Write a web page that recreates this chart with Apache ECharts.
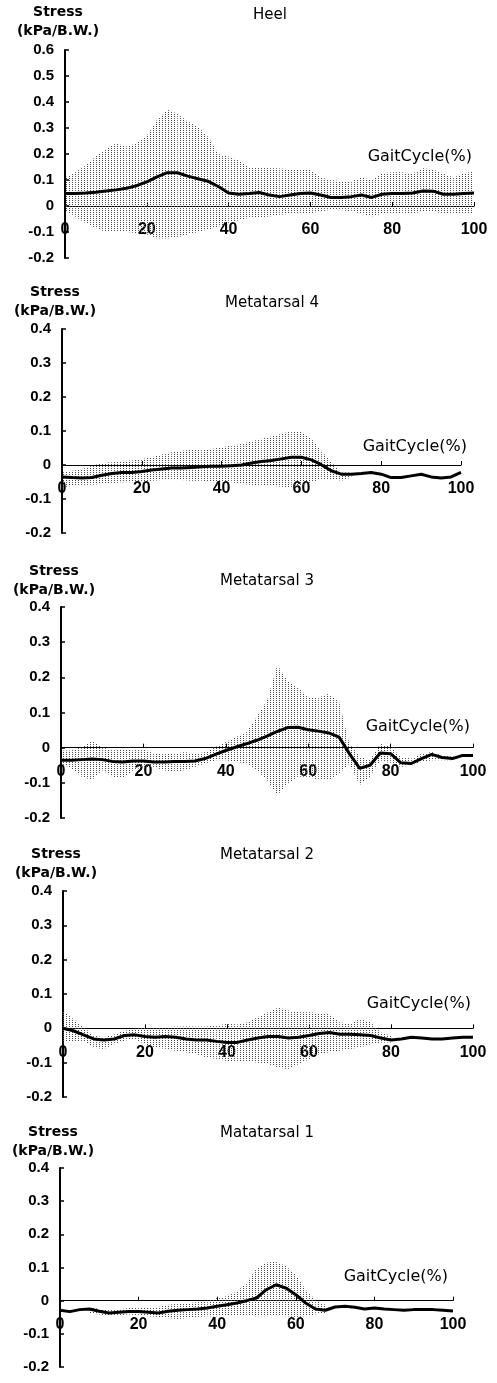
<!DOCTYPE html>
<html lang="en" style="height: 100%">
<head>
  <meta charset="utf-8">
  <title>Plantar stress over the gait cycle</title>
</head>
<body style="height: 100%; margin: 0; background: #fff;">
  <div id="container" style="width: 497px; height: 1383px;"></div>

  <script type="text/javascript" src="https://cdn.jsdelivr.net/npm/echarts@6.0.0/dist/echarts.min.js"></script>
  <script type="text/javascript">
    // gait cycle (%), sampled every 2.5
    var gait = [0, 2.5, 5, 7.5, 10, 12.5, 15, 17.5, 20, 22.5, 25, 27.5, 30, 32.5, 35, 37.5, 40, 42.5, 45, 47.5,
      50, 52.5, 55, 57.5, 60, 62.5, 65, 67.5, 70, 72.5, 75, 77.5, 80, 82.5, 85, 87.5, 90, 92.5, 95, 97.5, 100];

    var heelMean = [0.048, 0.048, 0.05, 0.053, 0.058, 0.062, 0.068, 0.078, 0.093, 0.112, 0.128, 0.128, 0.115, 0.105, 0.095, 0.075, 0.05, 0.045, 0.048, 0.052,
      0.042, 0.036, 0.042, 0.048, 0.05, 0.042, 0.033, 0.033, 0.036, 0.042, 0.033, 0.045, 0.048, 0.048, 0.05, 0.058, 0.057, 0.045, 0.045, 0.048, 0.05];
    var heelUpper = [0.11, 0.13, 0.155, 0.19, 0.22, 0.24, 0.23, 0.24, 0.27, 0.33, 0.37, 0.355, 0.325, 0.305, 0.265, 0.2, 0.19, 0.175, 0.15, 0.15,
      0.145, 0.145, 0.14, 0.14, 0.14, 0.11, 0.1, 0.095, 0.095, 0.11, 0.1, 0.125, 0.13, 0.13, 0.125, 0.145, 0.14, 0.125, 0.11, 0.125, 0.135];
    var heelLower = [-0.015, -0.04, -0.065, -0.085, -0.1, -0.1, -0.1, -0.105, -0.11, -0.125, -0.125, -0.12, -0.11, -0.1, -0.09, -0.08, -0.065, -0.055, -0.045, -0.045,
      -0.04, -0.035, -0.03, -0.03, -0.03, -0.02, -0.015, -0.015, -0.02, -0.03, -0.04, -0.03, -0.03, -0.03, -0.03, -0.02, -0.02, -0.03, -0.03, -0.03, -0.03];

    var met4Mean = [-0.035, -0.037, -0.038, -0.037, -0.03, -0.025, -0.022, -0.022, -0.019, -0.015, -0.012, -0.009, -0.009, -0.007, -0.005, -0.004, -0.004, -0.002, 0, 0.006,
      0.01, 0.013, 0.018, 0.023, 0.023, 0.015, 0.001, -0.017, -0.027, -0.027, -0.025, -0.022, -0.027, -0.037, -0.037, -0.032, -0.027, -0.035, -0.038, -0.035, -0.022];
    var met4Upper = [-0.022, -0.017, -0.012, -0.002, 0.005, 0.008, 0.011, 0.013, 0.018, 0.023, 0.031, 0.038, 0.042, 0.045, 0.047, 0.047, 0.052, 0.057, 0.062, 0.07,
      0.077, 0.084, 0.092, 0.1, 0.097, 0.077, 0.042, 0.008, -0.022, -0.022, null, null, null, null, null, null, null, null, null, null, null];
    var met4Lower = [-0.066, -0.061, -0.058, -0.058, -0.056, -0.054, -0.051, -0.051, -0.049, -0.046, -0.044, -0.044, -0.044, -0.046, -0.046, -0.051, -0.051, -0.051, -0.056, -0.058,
      -0.061, -0.061, -0.064, -0.066, -0.061, -0.051, -0.041, -0.041, -0.046, -0.037, null, null, null, null, null, null, null, null, null, null, null];

    var met3Mean = [-0.036, -0.036, -0.034, -0.032, -0.034, -0.039, -0.041, -0.038, -0.038, -0.041, -0.041, -0.039, -0.039, -0.038, -0.031, -0.019, -0.008, 0.002, 0.011, 0.021,
      0.033, 0.046, 0.057, 0.058, 0.051, 0.047, 0.042, 0.03, -0.017, -0.059, -0.05, -0.015, -0.017, -0.043, -0.045, -0.031, -0.019, -0.028, -0.031, -0.022, -0.022];
    var met3Upper = [-0.008, -0.008, 0.002, 0.021, 0.002, -0.008, -0.003, -0.008, -0.003, -0.017, -0.019, -0.017, -0.012, -0.017, -0.012, 0.002, 0.016, 0.03, 0.044, 0.087,
      0.134, 0.235, 0.19, 0.172, 0.143, 0.143, 0.153, 0.13, 0.011, -0.026, -0.036, 0.011, 0.002, -0.026, -0.031, -0.017, -0.012, -0.022, -0.026, -0.019, -0.019];
    var met3Lower = [-0.045, -0.059, -0.083, -0.092, -0.064, -0.083, -0.088, -0.064, -0.055, -0.055, -0.064, -0.069, -0.064, -0.055, -0.045, -0.036, -0.036, -0.041, -0.045, -0.064,
      -0.092, -0.135, -0.102, -0.083, -0.083, -0.092, -0.092, -0.074, -0.045, -0.106, -0.083, -0.036, -0.045, -0.055, -0.05, -0.041, -0.036, -0.036, -0.036, -0.026, -0.026];

    var met2Mean = [0, -0.007, -0.019, -0.031, -0.034, -0.031, -0.021, -0.019, -0.024, -0.026, -0.024, -0.026, -0.031, -0.034, -0.034, -0.038, -0.041, -0.041, -0.034, -0.028,
      -0.024, -0.024, -0.028, -0.026, -0.021, -0.015, -0.012, -0.017, -0.017, -0.019, -0.021, -0.028, -0.034, -0.031, -0.026, -0.028, -0.031, -0.031, -0.028, -0.026, -0.026];
    var met2Upper = [0.052, 0.027, 0.003, -0.021, -0.026, -0.017, -0.007, -0.002, 0.003, 0.003, 0.003, 0.005, 0.005, 0.005, 0.005, 0.008, 0.013, 0.011, 0.018, 0.032,
      0.047, 0.061, 0.052, 0.047, 0.047, 0.044, 0.042, 0.018, 0.013, 0.027, 0.018, -0.012, -0.021, null, null, null, null, null, null, null, null];
    var met2Lower = [-0.041, -0.038, -0.036, -0.056, -0.06, -0.046, -0.036, -0.031, -0.046, -0.056, -0.06, -0.065, -0.07, -0.075, -0.085, -0.09, -0.095, -0.095, -0.095, -0.1,
      -0.104, -0.114, -0.119, -0.104, -0.09, -0.075, -0.07, -0.065, -0.06, -0.056, -0.046, -0.041, -0.041, null, null, null, null, null, null, null, null];

    var met1Mean = [-0.029, -0.033, -0.027, -0.025, -0.032, -0.037, -0.035, -0.033, -0.033, -0.035, -0.037, -0.032, -0.029, -0.027, -0.025, -0.022, -0.017, -0.012, -0.007, 0,
      0.008, 0.033, 0.048, 0.038, 0.018, -0.007, -0.025, -0.029, -0.019, -0.017, -0.02, -0.025, -0.022, -0.025, -0.027, -0.029, -0.027, -0.027, -0.027, -0.029, -0.031];
    var met1Upper = [null, null, null, -0.019, -0.025, -0.027, -0.025, -0.022, -0.022, -0.022, -0.019, -0.012, -0.009, -0.007, -0.005, 0, 0.008, 0.013, 0.028, 0.053,
      0.098, 0.114, 0.119, 0.104, 0.078, 0.033, 0.003, -0.012, null, null, null, null, null, null, null, null, null, null, null, null, null];
    var met1Lower = [null, null, null, -0.039, -0.042, -0.045, -0.045, -0.042, -0.045, -0.047, -0.049, -0.052, -0.055, -0.052, -0.049, -0.047, -0.047, -0.045, -0.045, -0.045,
      -0.047, -0.047, -0.045, -0.047, -0.049, -0.047, -0.042, -0.037, null, null, null, null, null, null, null, null, null, null, null, null, null];

    var titles = ['Heel', 'Metatarsal 4', 'Metatarsal 3', 'Metatarsal 2', 'Matatarsal 1'];
    var yMaxes = [0.6, 0.4, 0.4, 0.4, 0.4];
    var yMin = -0.2;

    // layout of the five stacked panels
    var panels = [
      { mean: heelMean, upper: heelUpper, lower: heelLower, left: 65, top: 50, width: 409, height: 208, tx: 270, ty: 15, nameGap: 9, gcGap: -2, gcLift: 41 },
      { mean: met4Mean, upper: met4Upper, lower: met4Lower, left: 62, top: 329, width: 399, height: 204, tx: 272, ty: 303, nameGap: 8, gcGap: 6, gcLift: 10 },
      { mean: met3Mean, upper: met3Upper, lower: met3Lower, left: 61, top: 607, width: 412, height: 211, tx: 267, ty: 581, nameGap: 4, gcGap: -3, gcLift: 13 },
      { mean: met2Mean, upper: met2Upper, lower: met2Lower, left: 63, top: 891, width: 410, height: 206, tx: 267, ty: 855, nameGap: 8, gcGap: -2, gcLift: 16 },
      { mean: met1Mean, upper: met1Upper, lower: met1Lower, left: 60, top: 1168, width: 393, height: 199, tx: 267, ty: 1133, nameGap: 7, gcGap: -5, gcLift: 16 }
    ];

    // dotted texture for the +/- SD band
    var pat = document.createElement('canvas');
    pat.width = 3;
    pat.height = 2;
    var pctx = pat.getContext('2d');
    pctx.fillStyle = '#4a4a4a';
    pctx.fillRect(0, 0, 1, 1);
    var bandFill = { image: pat, repeat: 'repeat' };

    var FONT = 'DejaVu Sans';
    var NUM_FONT = 'Liberation Sans';

    function pairs(vals) {
      return gait.map(function (g, i) { return [g, vals[i]]; });
    }

    // one quad per gap between samples: [x0, lo0, up0, x1, lo1, up1]
    function bandSegments(lower, upper) {
      var out = [];
      for (var k = 0; k < gait.length - 1; k++) {
        if (lower[k] == null || upper[k] == null || lower[k + 1] == null || upper[k + 1] == null) continue;
        out.push([gait[k], lower[k], upper[k], gait[k + 1], lower[k + 1], upper[k + 1]]);
      }
      return out;
    }

    function renderBand(params, api) {
      var a = api.coord([api.value(0), api.value(1)]);
      var b = api.coord([api.value(0), api.value(2)]);
      var c = api.coord([api.value(3), api.value(5)]);
      var d = api.coord([api.value(3), api.value(4)]);
      return {
        type: 'polygon',
        shape: { points: [a, b, c, d] },
        style: { fill: bandFill },
        silent: true
      };
    }

    var grids = [], xAxes = [], yAxes = [], series = [], graphics = [];

    panels.forEach(function (p, i) {
      var zeroUp = p.height * (0 - yMin) / (yMaxes[i] - yMin);
      grids.push({ left: p.left, top: p.top, width: p.width, height: p.height });
      xAxes.push({
        gridIndex: i, type: 'value', min: 0, max: 100, interval: 20,
        position: 'bottom', offset: -zeroUp,
        name: 'GaitCycle(%)', nameLocation: 'end', nameGap: p.gcGap,
        nameTextStyle: { fontFamily: FONT, fontSize: 16, color: '#000', align: 'right', verticalAlign: 'bottom', padding: [0, 0, p.gcLift, 0] },
        axisLine: { onZero: false, lineStyle: { color: '#000', width: 1 } },
        axisTick: { inside: true, length: 4, lineStyle: { color: '#000' } },
        axisLabel: { margin: 16, color: '#000', fontFamily: NUM_FONT, fontSize: 16, fontWeight: 'bold' },
        splitLine: { show: false }
      });
      yAxes.push({
        gridIndex: i, type: 'value', min: yMin, max: yMaxes[i], interval: 0.1,
        name: 'Stress\n(kPa/B.W.)', nameLocation: 'end', nameGap: p.nameGap,
        nameTextStyle: { fontFamily: FONT, fontSize: 14, fontWeight: 'bold', color: '#000', align: 'center', verticalAlign: 'bottom', lineHeight: 19, padding: [0, 14, 0, 0] },
        axisLine: { show: true, onZero: false, lineStyle: { color: '#000', width: 2 } },
        axisTick: { show: true, inside: true, length: 4, lineStyle: { color: '#000', width: 1.5 } },
        axisLabel: { margin: 11, color: '#000', fontFamily: NUM_FONT, fontSize: 15, fontWeight: 'bold' },
        splitLine: { show: false }
      });

      series.push({
        type: 'custom', xAxisIndex: i, yAxisIndex: i,
        data: bandSegments(p.lower, p.upper),
        encode: { x: [0, 3], y: [1, 2, 4, 5] },
        renderItem: renderBand, silent: true, z: 1
      });
      series.push({
        type: 'line', xAxisIndex: i, yAxisIndex: i, data: pairs(p.mean),
        symbol: 'none', lineStyle: { color: '#000', width: 3 }, z: 3
      });

      graphics.push({
        type: 'text', x: p.tx, y: p.ty,
        style: { text: titles[i], fill: '#000', font: '15px "' + FONT + '"', align: 'center', verticalAlign: 'middle', textAlign: 'center', textVerticalAlign: 'middle' }
      });
    });

    var chart = echarts.init(document.getElementById('container'), null, { renderer: 'canvas' });
    chart.setOption({
      backgroundColor: '#fff',
      animation: false,
      grid: grids,
      xAxis: xAxes,
      yAxis: yAxes,
      series: series,
      graphic: graphics
    });
  </script>
</body>
</html>
